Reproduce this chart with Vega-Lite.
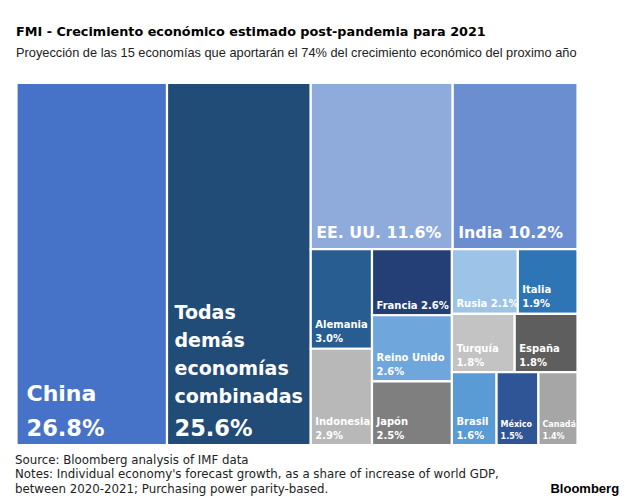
{
  "$schema": "https://vega.github.io/schema/vega-lite/v6.json",
  "background": "white",
  "padding": {"left": 14.5, "top": 26, "right": 0, "bottom": 0},
  "title": {
    "text": "FMI - Crecimiento económico estimado post-pandemia para 2021",
    "subtitle": "Proyección de las 15 economías que aportarán el 74% del crecimiento económico del proximo año",
    "anchor": "start",
    "font": "DejaVu Sans",
    "fontSize": 12.8,
    "fontWeight": "bold",
    "color": "#000000",
    "subtitleFont": "Liberation Sans",
    "subtitleFontSize": 12.8,
    "subtitleColor": "#222222",
    "subtitlePadding": 8,
    "offset": 22,
    "dx": 1.5
  },
  "vconcat": [
    {
      "width": 561,
      "height": 362,
      "title": {
        "text": "Bloomberg",
        "orient": "bottom",
        "anchor": "end",
        "font": "Liberation Sans",
        "fontSize": 13,
        "fontWeight": "bold",
        "color": "#000000",
        "baseline": "alphabetic",
        "offset": -2.5,
        "dx": 40.5
      },
      "data": {
        "values": [
          {"pais": "China", "texto": "China\n26.8%", "valor": 26.8, "l1": "China", "l2": "China", "l3": "China", "l4": "China", "l5": "China"},
          {"pais": "Todas demás economías combinadas", "texto": "Todas\ndemás\neconomías\ncombinadas\n25.6%", "valor": 25.6, "l1": "Otras", "l2": "Otras", "l3": "Otras", "l4": "Otras", "l5": "Otras"},
          {"pais": "EE. UU.", "texto": "EE. UU. 11.6%", "valor": 11.6, "l1": "Top", "l2": "Arriba", "l3": "EE. UU.", "l4": "EE. UU.", "l5": "EE. UU."},
          {"pais": "India", "texto": "India 10.2%", "valor": 10.2, "l1": "Top", "l2": "Arriba", "l3": "India", "l4": "India", "l5": "India"},
          {"pais": "Alemania", "texto": "Alemania\n3.0%", "valor": 3.0, "l1": "Top", "l2": "Abajo", "l3": "A", "l4": "Alemania", "l5": "Alemania"},
          {"pais": "Indonesia", "texto": "Indonesia\n2.9%", "valor": 2.9, "l1": "Top", "l2": "Abajo", "l3": "A", "l4": "Indonesia", "l5": "Indonesia"},
          {"pais": "Francia", "texto": "Francia 2.6%", "valor": 2.6, "l1": "Top", "l2": "Abajo", "l3": "B", "l4": "Francia", "l5": "Francia"},
          {"pais": "Reino Unido", "texto": "Reino Unido\n2.6%", "valor": 2.6, "l1": "Top", "l2": "Abajo", "l3": "B", "l4": "Reino Unido", "l5": "Reino Unido"},
          {"pais": "Japón", "texto": "Japón\n2.5%", "valor": 2.5, "l1": "Top", "l2": "Abajo", "l3": "B", "l4": "Japón", "l5": "Japón"},
          {"pais": "Rusia", "texto": "Rusia 2.1%", "valor": 2.1, "l1": "Top", "l2": "Abajo", "l3": "C", "l4": "C1", "l5": "Rusia"},
          {"pais": "Italia", "texto": "Italia\n1.9%", "valor": 1.9, "l1": "Top", "l2": "Abajo", "l3": "C", "l4": "C1", "l5": "Italia"},
          {"pais": "Turquía", "texto": "Turquía\n1.8%", "valor": 1.8, "l1": "Top", "l2": "Abajo", "l3": "C", "l4": "C2", "l5": "Turquía"},
          {"pais": "España", "texto": "España\n1.8%", "valor": 1.8, "l1": "Top", "l2": "Abajo", "l3": "C", "l4": "C2", "l5": "España"},
          {"pais": "Brasil", "texto": "Brasil\n1.6%", "valor": 1.6, "l1": "Top", "l2": "Abajo", "l3": "C", "l4": "C3", "l5": "Brasil"},
          {"pais": "México", "texto": "México\n1.5%", "valor": 1.5, "l1": "Top", "l2": "Abajo", "l3": "C", "l4": "C3", "l5": "México"},
          {"pais": "Canadá", "texto": "Canadá\n1.4%", "valor": 1.4, "l1": "Top", "l2": "Abajo", "l3": "C", "l4": "C3", "l5": "Canadá"}
        ]
      },
      "transform": [
        {"window": [{"op": "row_number", "as": "idx"}]},
        {"joinaggregate": [{"op": "sum", "field": "valor", "as": "T"}]},
        {"window": [{"op": "sum", "field": "valor", "as": "c1"}], "sort": [{"field": "idx"}]},
        {"calculate": "datum.c1 - datum.valor", "as": "s1"},
        {"joinaggregate": [{"op": "sum", "field": "valor", "as": "S1"}, {"op": "min", "field": "s1", "as": "B1"}], "groupby": ["l1"]},
        {"calculate": "datum.B1 / datum.T", "as": "x0"},
        {"calculate": "(datum.B1 + datum.S1) / datum.T", "as": "x1"},
        {"window": [{"op": "sum", "field": "valor", "as": "c2"}], "groupby": ["l1"], "sort": [{"field": "idx"}]},
        {"calculate": "datum.c2 - datum.valor", "as": "s2"},
        {"joinaggregate": [{"op": "sum", "field": "valor", "as": "S2"}, {"op": "min", "field": "s2", "as": "B2"}], "groupby": ["l2"]},
        {"calculate": "datum.B2 / datum.S1", "as": "ya"},
        {"calculate": "(datum.B2 + datum.S2) / datum.S1", "as": "yb"},
        {"window": [{"op": "sum", "field": "valor", "as": "c3"}], "groupby": ["l2"], "sort": [{"field": "idx"}]},
        {"calculate": "datum.c3 - datum.valor", "as": "s3"},
        {"joinaggregate": [{"op": "sum", "field": "valor", "as": "S3"}, {"op": "min", "field": "s3", "as": "B3"}], "groupby": ["l3"]},
        {"calculate": "datum.x0 + (datum.x1 - datum.x0) * datum.B3 / datum.S2", "as": "xa"},
        {"calculate": "datum.x0 + (datum.x1 - datum.x0) * (datum.B3 + datum.S3) / datum.S2", "as": "xb"},
        {"window": [{"op": "sum", "field": "valor", "as": "c4"}], "groupby": ["l3"], "sort": [{"field": "idx"}]},
        {"calculate": "datum.c4 - datum.valor", "as": "s4"},
        {"joinaggregate": [{"op": "sum", "field": "valor", "as": "S4"}, {"op": "min", "field": "s4", "as": "B4"}], "groupby": ["l4"]},
        {"calculate": "datum.ya + (datum.yb - datum.ya) * datum.B4 / datum.S3", "as": "yc"},
        {"calculate": "datum.ya + (datum.yb - datum.ya) * (datum.B4 + datum.S4) / datum.S3", "as": "yd"},
        {"window": [{"op": "sum", "field": "valor", "as": "c5"}], "groupby": ["l4"], "sort": [{"field": "idx"}]},
        {"calculate": "datum.c5 - datum.valor", "as": "s5"},
        {"joinaggregate": [{"op": "sum", "field": "valor", "as": "S5"}, {"op": "min", "field": "s5", "as": "B5"}], "groupby": ["l5"]},
        {"calculate": "datum.xa + (datum.xb - datum.xa) * datum.B5 / datum.S4", "as": "xc"},
        {"calculate": "datum.xa + (datum.xb - datum.xa) * (datum.B5 + datum.S5) / datum.S4", "as": "xd"}
      ],
      "encoding": {
        "x": {
          "field": "xc",
          "type": "quantitative",
          "scale": {"domain": [0, 1], "nice": false, "zero": false},
          "axis": {
            "title": [
              "Source: Bloomberg analysis of IMF data",
              "Notes: Individual economy's forecast growth, as a share of increase of world GDP,",
              "between 2020-2021; Purchasing power parity-based."
            ],
            "domain": false,
            "ticks": false,
            "labels": false,
            "grid": false,
            "titleAnchor": "start",
            "titleAlign": "left",
            "titleBaseline": "alphabetic",
            "titleX": -2,
            "titleY": 18.2,
            "titleFont": "DejaVu Sans",
            "titleFontSize": 11.8,
            "titleFontWeight": "normal",
            "titleColor": "#222222",
            "titleLineHeight": 14.7
          }
        },
        "y": {
          "field": "yd",
          "type": "quantitative",
          "scale": {"domain": [0, 1], "nice": false, "zero": false, "reverse": true},
          "axis": null
        }
      },
      "layer": [
        {
          "mark": {"type": "rect", "stroke": "white", "strokeWidth": 2.2},
          "encoding": {
            "x": {"field": "xc", "type": "quantitative"},
            "x2": {"field": "xd"},
            "y": {"field": "yc", "type": "quantitative"},
            "y2": {"field": "yd"},
            "color": {
              "field": "pais",
              "type": "nominal",
              "legend": null,
              "scale": {
                "domain": ["China", "Todas demás economías combinadas", "EE. UU.", "India", "Alemania", "Indonesia", "Francia", "Reino Unido", "Japón", "Rusia", "Italia", "Turquía", "España", "Brasil", "México", "Canadá"],
                "range": ["#4673c8", "#214c78", "#8fabdc", "#6a8ecf", "#285d91", "#b8b8b8", "#233f76", "#6fa6dc", "#7f7f7f", "#9dc3e6", "#2e75b6", "#c3c3c3", "#5e5e5e", "#5a9ad5", "#2f5597", "#a6a6a6"]
              }
            }
          }
        },
        {
          "transform": [{"filter": "datum.valor < 5 && datum.valor > 1.55 && indexof(datum.texto, '\\n') >= 0"}],
          "mark": {"type": "text", "font": "DejaVu Sans", "fontWeight": "bold", "fontSize": 10, "lineHeight": 14, "lineBreak": "\n", "align": "left", "baseline": "alphabetic", "dx": 4.5, "dy": -20.5, "color": "white"},
          "encoding": {"text": {"field": "texto"}}
        },
        {
          "transform": [{"filter": "datum.valor < 5 && indexof(datum.texto, '\\n') < 0"}],
          "mark": {"type": "text", "font": "DejaVu Sans", "fontWeight": "bold", "fontSize": 10, "align": "left", "baseline": "alphabetic", "dx": 4.5, "dy": -6.5, "color": "white"},
          "encoding": {"text": {"field": "texto"}}
        },
        {
          "transform": [{"filter": "datum.valor <= 1.55"}],
          "mark": {"type": "text", "font": "DejaVu Sans", "fontWeight": "bold", "fontSize": 8, "lineHeight": 11.5, "lineBreak": "\n", "align": "left", "baseline": "alphabetic", "dx": 4, "dy": -18, "color": "white"},
          "encoding": {"text": {"field": "texto"}}
        },
        {
          "transform": [{"filter": "datum.valor >= 5 && datum.valor < 20"}],
          "mark": {"type": "text", "font": "DejaVu Sans", "fontWeight": "bold", "fontSize": 15.8, "align": "left", "baseline": "alphabetic", "dx": 5.5, "dy": -11.5, "color": "white"},
          "encoding": {"text": {"field": "texto"}}
        },
        {
          "transform": [
            {"filter": "datum.pais == 'China'"},
            {"calculate": "slice(datum.texto, 0, lastindexof(datum.texto, '\\n'))", "as": "nombre"}
          ],
          "mark": {"type": "text", "font": "DejaVu Sans", "fontWeight": "bold", "fontSize": 22, "align": "left", "baseline": "alphabetic", "dx": 10, "dy": -43.8, "color": "white"},
          "encoding": {"text": {"field": "nombre"}}
        },
        {
          "transform": [
            {"filter": "datum.pais == 'China'"},
            {"calculate": "slice(datum.texto, lastindexof(datum.texto, '\\n') + 1)", "as": "pct"}
          ],
          "mark": {"type": "text", "font": "DejaVu Sans", "fontWeight": "bold", "fontSize": 22.5, "align": "left", "baseline": "alphabetic", "dx": 10, "dy": -9.5, "color": "white"},
          "encoding": {"text": {"field": "pct"}}
        },
        {
          "transform": [
            {"filter": "datum.pais == 'Todas demás economías combinadas'"},
            {"calculate": "slice(datum.texto, 0, lastindexof(datum.texto, '\\n'))", "as": "nombre"}
          ],
          "mark": {"type": "text", "font": "DejaVu Sans", "fontWeight": "bold", "fontSize": 19, "lineHeight": 28, "lineBreak": "\n", "align": "left", "baseline": "alphabetic", "dx": 7.5, "dy": -126.5, "color": "white"},
          "encoding": {"text": {"field": "nombre"}}
        },
        {
          "transform": [
            {"filter": "datum.pais == 'Todas demás economías combinadas'"},
            {"calculate": "slice(datum.texto, lastindexof(datum.texto, '\\n') + 1)", "as": "pct"}
          ],
          "mark": {"type": "text", "font": "DejaVu Sans", "fontWeight": "bold", "fontSize": 22.5, "align": "left", "baseline": "alphabetic", "dx": 7.5, "dy": -9.5, "color": "white"},
          "encoding": {"text": {"field": "pct"}}
        }
      ]
    }
  ],
  "config": {
    "view": {"stroke": null},
    "concat": {"spacing": 0}
  }
}
